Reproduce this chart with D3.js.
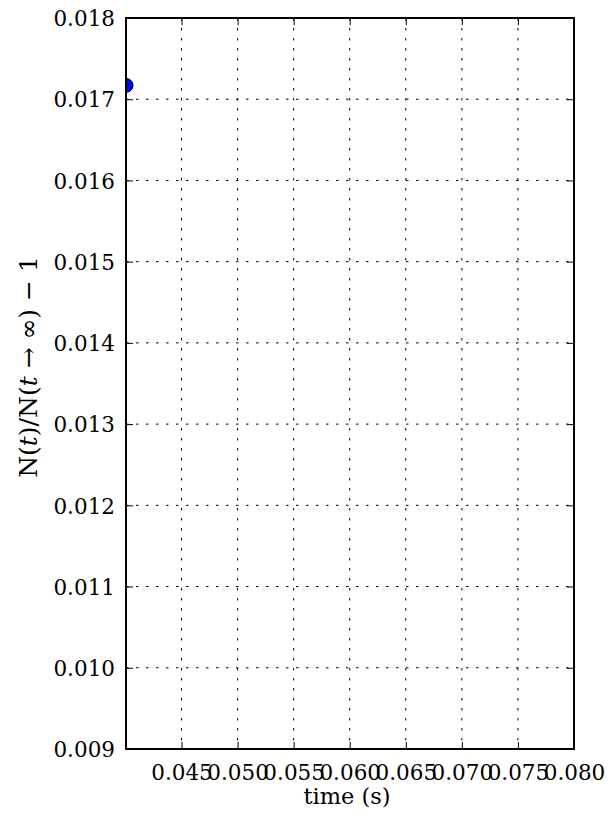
<!DOCTYPE html>
<html>
  <head>
    <meta charset="utf-8">
    <title>N(t) relaxation</title>
    <script src="https://d3js.org/d3.v7.min.js"></script>
    <style>
      body { margin: 0; background: #fff; }
    </style>
  </head>
  <body>
    <div id="chart"></div>
    <script>
      // data
      var times = [0.04005];
      var values = [0.01717];
      var xTicks = [0.045, 0.050, 0.055, 0.060, 0.065, 0.070, 0.075, 0.080];
      var yTicks = [0.009, 0.010, 0.011, 0.012, 0.013, 0.014, 0.015, 0.016, 0.017, 0.018];

      var W = 613, H = 819;
      var serif = "'DejaVu Serif', 'Liberation Serif', serif";
      var margin = {top: 18, right: 39, bottom: 70, left: 126},
          width = W - margin.left - margin.right,
          height = H - margin.top - margin.bottom;

      var svg = d3.select("#chart").append("svg")
          .attr("width", W)
          .attr("height", H)
          .style("font-family", serif);

      var g = svg.append("g")
          .attr("transform", "translate(" + margin.left + "," + margin.top + ")");

      var x = d3.scaleLinear().domain([0.04005, 0.080]).range([0, width]);
      var y = d3.scaleLinear().domain([0.009, 0.018]).range([height, 0]);

      // dotted grid
      g.append("g").selectAll("line").data(xTicks).enter().append("line")
          .attr("x1", function(d) { return x(d); })
          .attr("x2", function(d) { return x(d); })
          .attr("y1", 0).attr("y2", height)
          .attr("stroke", "#000").attr("stroke-width", 1)
          .attr("stroke-dasharray", "2.5,7.5");
      g.append("g").selectAll("line").data(yTicks).enter().append("line")
          .attr("y1", function(d) { return y(d); })
          .attr("y2", function(d) { return y(d); })
          .attr("x1", 0).attr("x2", width)
          .attr("stroke", "#000").attr("stroke-width", 1)
          .attr("stroke-dasharray", "2.5,7.5");

      // axes, ticks pointing inward
      var fmt = d3.format(".3f");
      var xb = g.append("g").attr("transform", "translate(0," + height + ")")
          .call(d3.axisBottom(x).tickValues(xTicks).tickFormat(fmt).tickSizeInner(-7).tickSizeOuter(0).tickPadding(16));
      var xt = g.append("g")
          .call(d3.axisTop(x).tickValues(xTicks).tickFormat("").tickSizeInner(-7).tickSizeOuter(0));
      var yl = g.append("g")
          .call(d3.axisLeft(y).tickValues(yTicks).tickFormat(fmt).tickSizeInner(-7).tickSizeOuter(0).tickPadding(11));
      var yr = g.append("g").attr("transform", "translate(" + width + ",0)")
          .call(d3.axisRight(y).tickValues(yTicks).tickFormat("").tickSizeInner(-7).tickSizeOuter(0));

      [xb, xt, yl, yr].forEach(function(a) {
        a.attr("font-family", null).attr("font-size", null);
        a.select(".domain").remove();
        a.selectAll(".tick line").attr("stroke", "#000").attr("stroke-width", 1);
        a.selectAll("text")
          .style("font-family", serif)
          .style("font-size", "21.5px")
          .attr("fill", "#000");
      });
      yl.selectAll("text").attr("dy", "0.36em");

      // data point, clipped to the axes box like matplotlib
      g.append("clipPath").attr("id", "clip").append("rect")
          .attr("width", width).attr("height", height);
      g.append("g").attr("clip-path", "url(#clip)")
        .selectAll("circle").data(times).enter().append("circle")
          .attr("cx", function(d) { return x(d); })
          .attr("cy", function(d, i) { return y(values[i]); })
          .attr("r", 7)
          .attr("fill", "#0000ff")
          .attr("stroke", "#000")
          .attr("stroke-width", 1);

      // frame
      g.append("rect").attr("width", width).attr("height", height)
          .attr("fill", "none").attr("stroke", "#000").attr("stroke-width", 2);

      // axis labels
      svg.append("text")
          .attr("x", 347).attr("y", 804)
          .attr("text-anchor", "middle")
          .style("font-family", serif).style("font-size", "22.5px")
          .text("time (s)");

      var yt = svg.append("text")
          .attr("transform", "translate(37,367) rotate(-90)")
          .attr("text-anchor", "middle")
          .style("font-family", serif).style("font-size", "25px");
      yt.append("tspan").text("N(");
      yt.append("tspan").attr("font-style", "italic").text("t");
      yt.append("tspan").text(")/N(");
      yt.append("tspan").attr("font-style", "italic").text("t");
      yt.append("tspan").text(" \u2192 \u221E) \u2212 1");
    </script>
  </body>
</html>
